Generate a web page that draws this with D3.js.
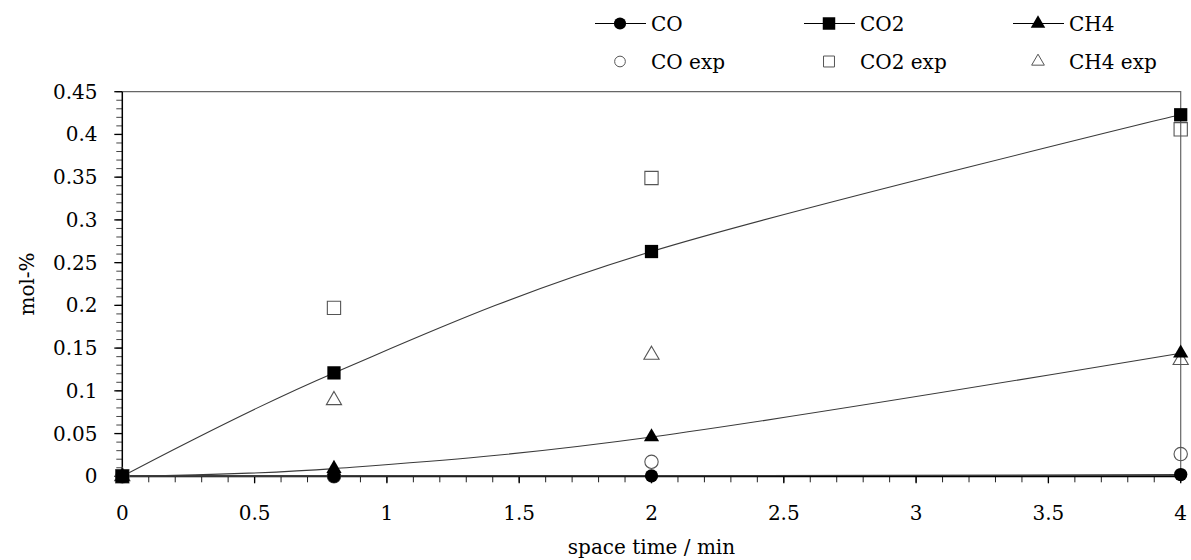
<!DOCTYPE html>
<html>
<head>
<meta charset="utf-8">
<script src="https://cdn.jsdelivr.net/npm/d3@7"></script>
<style>
  body { margin: 0; background: #fff; }
  svg text { font-family: "DejaVu Serif", serif; fill: #000; }
</style>
</head>
<body>
<script>
// space time in minutes
const spaceTime = [0, 0.8, 2, 4];

// simulated (lines with filled markers)
const coSim  = [0, 0, 0.0005, 0.002];
const co2Sim = [0, 0.121, 0.263, 0.423];
const ch4Sim = [0, 0.009, 0.046, 0.144];

// experimental (open markers)
const coExp  = [0, 0, 0.017, 0.026];
const co2Exp = [0, 0.197, 0.349, 0.406];
const ch4Exp = [0, 0.089, 0.142, 0.136];

const xTicks = [0, 0.5, 1, 1.5, 2, 2.5, 3, 3.5, 4];
const xTickLabels = ["0", "0.5", "1", "1.5", "2", "2.5", "3", "3.5", "4"];
const yTicks = [0, 0.05, 0.1, 0.15, 0.2, 0.25, 0.3, 0.35, 0.4, 0.45];
const yTickLabels = ["0", "0.05", "0.1", "0.15", "0.2", "0.25", "0.3", "0.35", "0.4", "0.45"];

const legendNames = ["CO", "CO2", "CH4"];

const width = 1191, height = 560;
const margin = {top: 91.7, right: 10.3, bottom: 83.7, left: 122.3};
const fontSize = "20px";

const svg = d3.select("body").append("svg")
    .attr("width", width)
    .attr("height", height)
    .attr("font-family", "DejaVu Serif, serif");

const x = d3.scaleLinear().domain([0, 4]).range([margin.left, width - margin.right]);
const y = d3.scaleLinear().domain([0, 0.45]).range([height - margin.bottom, margin.top]);

// frame (top and right)
svg.append("path")
    .attr("d", `M${x(0)},${y(0.45)}H${x(4)}V${y(0)}`)
    .attr("fill", "none")
    .attr("stroke", "#666")
    .attr("stroke-width", 1.2);

// x axis
const xMinor = d3.range(0, 41).map(i => i / 10);
const gx = svg.append("g");
gx.selectAll("line.minor").data(xMinor).join("line")
    .attr("x1", d => x(d)).attr("x2", d => x(d))
    .attr("y1", y(0)).attr("y2", y(0) + 6)
    .attr("stroke", "#222").attr("stroke-width", 1);
gx.selectAll("line.major").data(xTicks).join("line")
    .attr("x1", d => x(d)).attr("x2", d => x(d))
    .attr("y1", y(0)).attr("y2", y(0) + 7)
    .attr("stroke", "#000").attr("stroke-width", 1.3);
gx.selectAll("text").data(xTicks).join("text")
    .attr("x", d => x(d))
    .attr("y", 513)
    .attr("dy", "0.35em")
    .attr("text-anchor", "middle")
    .style("font-size", fontSize)
    .text((d, i) => xTickLabels[i]);
gx.append("line")
    .attr("x1", x(0)).attr("x2", x(4))
    .attr("y1", y(0)).attr("y2", y(0))
    .attr("stroke", "#000").attr("stroke-width", 2);

// y axis
const yMinor = d3.range(0, 46).map(i => i / 100);
const gy = svg.append("g");
gy.selectAll("line.minor").data(yMinor).join("line")
    .attr("x1", x(0) - 6).attr("x2", x(0))
    .attr("y1", d => y(d)).attr("y2", d => y(d))
    .attr("stroke", "#444").attr("stroke-width", 1);
gy.selectAll("line.major").data(yTicks).join("line")
    .attr("x1", x(0) - 8).attr("x2", x(0))
    .attr("y1", d => y(d)).attr("y2", d => y(d))
    .attr("stroke", "#000").attr("stroke-width", 1.3);
gy.selectAll("text").data(yTicks).join("text")
    .attr("x", 97.5)
    .attr("y", d => y(d))
    .attr("dy", "0.35em")
    .attr("text-anchor", "end")
    .style("font-size", fontSize)
    .text((d, i) => yTickLabels[i]);
gy.append("line")
    .attr("x1", x(0)).attr("x2", x(0))
    .attr("y1", y(0.45)).attr("y2", y(0))
    .attr("stroke", "#000").attr("stroke-width", 1.5);

// axis titles
svg.append("text")
    .attr("x", (x(0) + x(4)) / 2)
    .attr("y", 547)
    .attr("dy", "0.35em")
    .attr("text-anchor", "middle")
    .style("font-size", fontSize)
    .text("space time / min");

svg.append("text")
    .attr("transform", `translate(27,${(y(0) + y(0.45)) / 2}) rotate(-90)`)
    .attr("dy", "0.35em")
    .attr("text-anchor", "middle")
    .style("font-size", fontSize)
    .text("mol-%");

const sim = [coSim, co2Sim, ch4Sim];
const exp = [coExp, co2Exp, ch4Exp];
const symbolTypes = [d3.symbolCircle, d3.symbolSquare, d3.symbolTriangle];
const symbolSizes = [140, 176, 100];

const line = d3.line()
    .x((d, i) => x(spaceTime[i]))
    .y(d => y(d))
    .curve(d3.curveCardinal.tension(0));

// simulated lines
svg.append("g").selectAll("path").data(sim).join("path")
    .attr("d", d => line(d))
    .attr("fill", "none")
    .attr("stroke", "#3a3a3a")
    .attr("stroke-width", 1.1);

// experimental markers (under the filled ones)
exp.forEach((vals, k) => {
    svg.append("g").selectAll("path").data(vals).join("path")
        .attr("transform", (d, i) => `translate(${x(spaceTime[i])},${y(d)})`)
        .attr("d", d3.symbol(symbolTypes[k], symbolSizes[k]))
        .attr("fill", "none")
        .attr("stroke", "#555")
        .attr("stroke-width", 1.1);
});

// simulated markers
sim.forEach((vals, k) => {
    svg.append("g").selectAll("path").data(vals).join("path")
        .attr("transform", (d, i) => `translate(${x(spaceTime[i])},${y(d)})`)
        .attr("d", d3.symbol(symbolTypes[k], symbolSizes[k]))
        .attr("fill", "#000");
});

// legend
const legendX = [620, 829, 1038];
const legendRows = [23.5, 61.5];
const legendSizes = [90, 120, 70];
const legend = svg.append("g");
legendNames.forEach((name, k) => {
    const cx = legendX[k];
    legend.append("line")
        .attr("x1", cx - 25).attr("x2", cx + 26)
        .attr("y1", legendRows[0]).attr("y2", legendRows[0])
        .attr("stroke", "#000").attr("stroke-width", 1.1);
    legend.append("path")
        .attr("transform", `translate(${cx},${legendRows[0]})`)
        .attr("d", d3.symbol(symbolTypes[k], legendSizes[k] * 1.3))
        .attr("fill", "#000");
    legend.append("text")
        .attr("x", cx + 31).attr("y", legendRows[0])
        .attr("dy", "0.35em")
        .style("font-size", fontSize)
        .text(name);
    legend.append("path")
        .attr("transform", `translate(${cx},${legendRows[1]})`)
        .attr("d", d3.symbol(symbolTypes[k], legendSizes[k]))
        .attr("fill", "none")
        .attr("stroke", "#555")
        .attr("stroke-width", 1);
    legend.append("text")
        .attr("x", cx + 31).attr("y", legendRows[1])
        .attr("dy", "0.35em")
        .style("font-size", fontSize)
        .text(name + " exp");
});
</script>
</body>
</html>
